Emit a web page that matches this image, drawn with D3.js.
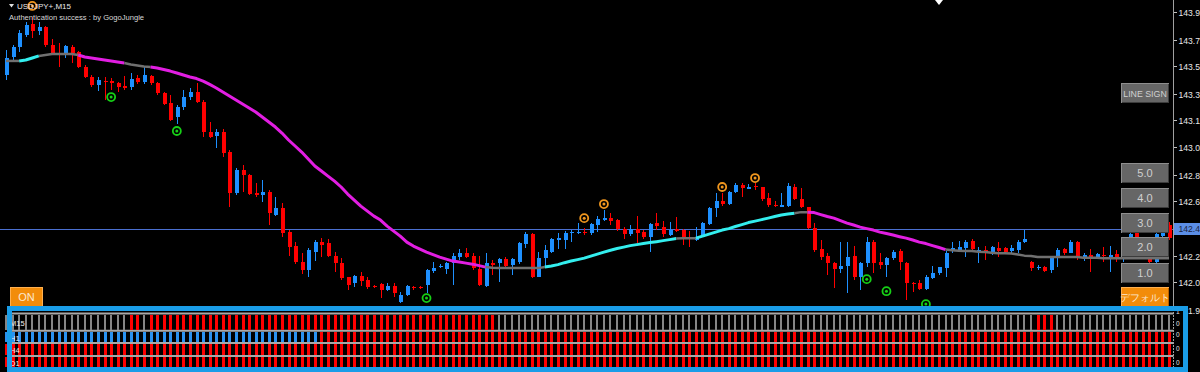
<!DOCTYPE html>
<html>
<head>
<meta charset="utf-8">
<script src="https://cdn.jsdelivr.net/npm/d3@7"></script>
<style>
  body { margin: 0; background: #000; overflow: hidden; }
  svg { display: block; }
</style>
</head>
<body>
<svg id="chart"></svg>
<script>
// USDJPY+ M15 candles
const opens = [
  143.499,143.622,143.690,143.772,143.847,143.799,143.826,143.704,143.649,143.649,
  143.690,143.656,143.554,143.486,143.431,143.458,143.458,143.445,143.424,143.418,
  143.479,143.452,143.492,143.445,143.377,143.309,143.213,143.281,143.349,143.383,
  143.315,143.111,143.084,143.111,142.975,142.696,142.852,142.818,142.696,142.682,
  142.702,142.546,142.594,142.430,142.335,142.226,142.171,142.294,142.362,142.355,
  142.267,142.219,142.124,142.083,142.130,142.103,142.062,142.076,142.035,142.062,
  141.953,142.001,142.056,142.056,142.069,142.164,142.192,142.178,142.219,142.260,
  142.287,142.267,142.178,142.062,142.219,142.219,142.246,142.205,142.226,142.348,
  142.416,142.124,142.253,142.294,142.376,142.376,142.423,142.423,142.430,142.423,
  142.478,142.512,142.525,142.512,142.451,142.416,142.451,142.430,142.396,142.491,
  142.464,142.410,142.451,142.444,142.396,142.376,142.396,142.485,142.594,142.641,
  142.621,142.702,142.750,142.723,142.743,142.737,142.662,142.614,142.600,142.607,
  142.737,142.655,142.600,142.457,142.314,142.267,142.219,142.178,142.199,142.267,
  142.124,142.219,142.362,142.226,142.205,142.253,142.301,142.219,142.083,142.083,
  142.042,142.117,142.151,142.185,142.301,142.307,142.321,142.369,142.294,142.307,
  142.280,142.321,142.321,142.301,142.307,142.362,142.226,142.185,142.192,142.171,
  142.253,142.314,142.287,142.362,142.260,142.273,142.260,142.273,142.260,142.280,
  142.246,142.273,142.430,142.376,142.307,142.226,142.403,142.478
];
const highs = [
  143.669,143.704,143.806,143.860,143.894,143.860,143.833,143.744,143.717,143.704,
  143.704,143.663,143.567,143.499,143.486,143.486,143.479,143.452,143.492,143.513,
  143.499,143.554,143.499,143.452,143.383,143.363,143.295,143.397,143.411,143.445,
  143.329,143.179,143.132,143.132,142.988,142.866,142.886,142.825,142.764,142.784,
  142.716,142.668,142.628,142.444,142.362,142.287,142.321,142.376,142.389,142.382,
  142.294,142.253,142.124,142.137,142.158,142.124,142.069,142.083,142.083,142.083,
  142.021,142.069,142.062,142.062,142.178,142.226,142.212,142.226,142.287,142.314,
  142.321,142.287,142.267,142.287,142.239,142.253,142.260,142.253,142.362,142.430,
  142.423,142.294,142.342,142.389,142.423,142.437,142.444,142.491,142.457,142.491,
  142.539,142.580,142.559,142.519,142.464,142.478,142.539,142.444,142.491,142.559,
  142.505,142.498,142.532,142.451,142.437,142.464,142.498,142.600,142.696,142.696,
  142.709,142.764,142.764,142.757,142.764,142.737,142.696,142.641,142.696,142.764,
  142.757,142.730,142.600,142.491,142.376,142.287,142.226,142.362,142.362,142.335,
  142.226,142.396,142.376,142.287,142.260,142.307,142.314,142.226,142.090,142.103,
  142.137,142.199,142.192,142.301,142.362,142.369,142.376,142.382,142.328,142.335,
  142.335,142.362,142.328,142.342,142.376,142.444,142.233,142.205,142.199,142.260,
  142.321,142.321,142.376,142.369,142.287,142.314,142.287,142.328,142.335,142.307,
  142.294,142.430,142.457,142.389,142.342,142.430,142.471,142.498
];
const lows = [
  143.465,143.601,143.656,143.758,143.751,143.772,143.690,143.635,143.554,143.615,
  143.581,143.547,143.479,143.418,143.390,143.329,143.397,143.383,143.397,143.397,
  143.438,143.438,143.431,143.363,143.295,143.186,143.166,143.261,143.329,143.309,
  143.077,143.070,143.002,142.941,142.600,142.682,142.702,142.682,142.668,142.634,
  142.478,142.539,142.396,142.267,142.212,142.144,142.124,142.233,142.260,142.260,
  142.158,142.103,142.035,142.056,142.062,142.042,142.049,141.981,142.028,141.987,
  141.947,141.994,142.035,142.042,142.015,142.151,142.185,142.144,142.069,142.239,
  142.253,142.171,142.062,142.056,142.137,142.090,142.192,142.137,142.212,142.321,
  142.117,142.124,142.192,142.287,142.314,142.314,142.362,142.416,142.410,142.410,
  142.430,142.505,142.478,142.437,142.382,142.403,142.355,142.382,142.294,142.444,
  142.396,142.403,142.430,142.342,142.328,142.369,142.396,142.478,142.532,142.607,
  142.614,142.696,142.668,142.723,142.716,142.641,142.600,142.600,142.600,142.600,
  142.648,142.594,142.451,142.294,142.239,142.137,142.049,142.151,142.015,142.103,
  142.035,142.192,142.151,142.178,142.124,142.239,142.171,141.967,142.021,142.035,
  142.035,142.110,142.137,142.124,142.287,142.294,142.260,142.301,142.219,142.239,
  142.273,142.260,142.280,142.287,142.287,142.355,142.164,142.171,142.158,142.151,
  142.192,142.273,142.287,142.239,142.233,142.158,142.253,142.226,142.158,142.226,
  142.226,142.267,142.348,142.273,142.212,142.219,142.376,142.376
];
const closes = [
  143.615,143.690,143.785,143.840,143.799,143.826,143.704,143.649,143.642,143.697,
  143.649,143.554,143.486,143.431,143.465,143.452,143.445,143.418,143.411,143.472,
  143.452,143.499,143.445,143.377,143.302,143.193,143.281,143.349,143.383,143.315,
  143.111,143.077,143.111,142.968,142.696,142.852,142.818,142.689,142.682,142.702,
  142.559,142.594,142.423,142.328,142.226,142.171,142.307,142.362,142.342,142.267,
  142.219,142.117,142.069,142.130,142.096,142.056,142.056,142.035,142.062,142.015,
  142.001,142.062,142.049,142.049,142.171,142.185,142.199,142.219,142.267,142.287,
  142.260,142.185,142.069,142.219,142.205,142.246,142.199,142.246,142.355,142.416,
  142.124,142.253,142.307,142.382,142.389,142.423,142.430,142.430,142.423,142.485,
  142.519,142.525,142.505,142.451,142.416,142.451,142.423,142.396,142.485,142.471,
  142.416,142.444,142.437,142.396,142.382,142.396,142.491,142.594,142.641,142.621,
  142.702,142.750,142.730,142.737,142.737,142.655,142.614,142.607,142.614,142.743,
  142.655,142.600,142.457,142.307,142.260,142.219,142.178,142.199,142.260,142.124,
  142.219,142.362,142.219,142.205,142.253,142.294,142.226,142.083,142.076,142.042,
  142.124,142.151,142.192,142.287,142.321,142.328,142.362,142.314,142.307,142.294,
  142.328,142.301,142.294,142.321,142.362,142.382,142.185,142.192,142.164,142.253,
  142.307,142.287,142.362,142.260,142.273,142.260,142.280,142.267,142.273,142.260,
  142.273,142.416,142.376,142.294,142.226,142.416,142.444,142.389
];

// moving average line and its trend colouring (u = up, d = down, f = flat)
const maValues = [
  143.595,143.595,143.595,143.601,143.615,143.629,143.635,143.642,143.642,143.642,
  143.642,143.635,143.622,143.615,143.608,143.601,143.595,143.588,143.581,143.571,
  143.564,143.557,143.554,143.547,143.537,143.526,143.513,143.499,143.486,143.475,
  143.458,143.435,143.411,143.383,143.356,143.329,143.302,143.275,143.247,143.213,
  143.179,143.145,143.104,143.057,143.016,142.975,142.927,142.880,142.846,142.811,
  142.777,142.737,142.689,142.648,142.607,142.573,142.539,142.512,142.471,142.437,
  142.403,142.362,142.335,142.314,142.294,142.277,142.260,142.246,142.233,142.226,
  142.219,142.212,142.202,142.192,142.188,142.185,142.185,142.185,142.185,142.185,
  142.185,142.185,142.192,142.199,142.209,142.222,142.233,142.243,142.253,142.267,
  142.280,142.294,142.307,142.318,142.328,142.338,142.345,142.352,142.359,142.365,
  142.372,142.379,142.386,142.389,142.389,142.389,142.403,142.416,142.430,142.444,
  142.454,142.468,142.481,142.495,142.505,142.515,142.525,142.536,142.546,142.553,
  142.559,142.566,142.566,142.563,142.549,142.536,142.525,142.508,142.491,142.478,
  142.464,142.454,142.444,142.430,142.420,142.410,142.399,142.389,142.376,142.362,
  142.352,142.338,142.325,142.311,142.307,142.304,142.301,142.301,142.297,142.294,
  142.290,142.287,142.287,142.284,142.277,142.270,142.267,142.260,142.260,142.260,
  142.260,142.260,142.260,142.260,142.256,142.256,142.256,142.253,142.253,142.253,
  142.253,142.253,142.253,142.253,142.253,142.253,142.253,142.253
];
const maTrendRuns = [["f",3],["u",3],["f",6],["d",7],["f",4],["d",51],["f",9],["u",20],["f",3],["u",15],["f",2],["d",21],["f",34]];

// arrow signals (candle index + price where the ring sits)
const sellIdx = [4, 88, 91, 109, 114];
const sellPrice = [143.969, 142.525, 142.621, 142.737, 142.798];
const buyIdx = [16, 26, 64, 131, 134, 140];
const buyPrice = [143.349, 143.118, 141.981, 142.110, 142.028, 141.940];

// price axis
const priceTicks = [143.93, 143.74, 143.56, 143.37, 143.19, 143.01, 142.82, 142.64, 142.45, 142.27, 142.09, 141.90];
const bidPrice = 142.45;

// multi-timeframe strip (g = neutral, r = sell, b = buy)
const tfNames = ["M15", "H1", "H4", "D1"];
const m15Runs = [["g",19],["r",2],["g",1],["r",53],["g",82],["r",3],["g",18]];
const h1Runs = [["b",48],["r",130]];
const h4Runs = [["r",178]];
const d1Runs = [["r",178]];
const tfValues = ["1", "0", "0", "0", "0"];

const buttonLabels = ["LINE SIGN", "5.0", "4.0", "3.0", "2.0", "1.0", "デフォルト"];

// ---------------------------------------------------------------
const W = 1200, H = 372;
const N = opens.length;
const axisX = 1173.5;

const expand = runs => runs.flatMap(([s, n]) => Array(n).fill(s));

const svg = d3.select("#chart").attr("width", W).attr("height", H)
  .style("font-family", "'Liberation Sans', Arial, sans-serif");
svg.append("rect").attr("width", W).attr("height", H).attr("fill", "#000");

svg.append("defs").append("clipPath").attr("id", "plot")
  .append("rect").attr("x", 0).attr("y", 0).attr("width", axisX).attr("height", 306);

const x = d3.scaleLinear().domain([0, N - 1]).range([6, 1169]);
const y = d3.scaleLinear().domain([141.90, 143.93]).range([310, 11.7]);

const plot = svg.append("g").attr("clip-path", "url(#plot)");

// bid line
plot.append("line")
  .attr("x1", 0).attr("x2", axisX)
  .attr("y1", Math.round(y(bidPrice)) + 0.5).attr("y2", Math.round(y(bidPrice)) + 0.5)
  .attr("stroke", "#4a6fd0").attr("stroke-width", 1);

// candles
const candles = d3.range(N).map(i => ({i, o: opens[i], h: highs[i], l: lows[i], c: closes[i]}));
const candleColor = d => d.c >= d.o ? "#1e90ff" : "#ff0000";
const cg = plot.append("g").attr("shape-rendering", "crispEdges");
cg.selectAll(".wick").data(candles).enter().append("line")
  .attr("x1", d => Math.round(x(d.i)) + 0.5).attr("x2", d => Math.round(x(d.i)) + 0.5)
  .attr("y1", d => y(d.h)).attr("y2", d => y(d.l))
  .attr("stroke", candleColor);
cg.selectAll(".body").data(candles).enter().append("rect")
  .attr("x", d => Math.round(x(d.i)) - 1.5)
  .attr("width", 4)
  .attr("y", d => y(Math.max(d.o, d.c)))
  .attr("height", d => Math.max(1, Math.abs(y(d.o) - y(d.c))))
  .attr("fill", candleColor);

// moving average, split into coloured runs
const trend = expand(maTrendRuns);
const maColor = {u: "#33eeee", d: "#e21ee2", f: "#707070"};
const maLine = d3.line().x(i => x(i)).y(i => y(maValues[i]));
let start = 0;
for (let i = 1; i <= N; i++) {
  if (i === N || trend[i] !== trend[start]) {
    const pts = d3.range(Math.max(0, start - 1), i);
    plot.append("path").attr("d", maLine(pts)).attr("fill", "none")
      .attr("stroke", maColor[trend[start]])
      .attr("stroke-width", trend[start] === "f" ? 2.5 : 3)
      .attr("stroke-linejoin", "round");
    start = i;
  }
}

// signal rings
function ring(cx, cy, col) {
  plot.append("circle").attr("cx", cx).attr("cy", cy).attr("r", 4)
    .attr("fill", "none").attr("stroke", col).attr("stroke-width", 1.8);
  plot.append("circle").attr("cx", cx).attr("cy", cy).attr("r", 1.5).attr("fill", col);
}
sellIdx.forEach((idx, k) => ring(x(idx), y(sellPrice[k]), "#f0961e"));
buyIdx.forEach((idx, k) => ring(x(idx), y(buyPrice[k]), "#16d016"));

// price axis
svg.append("line").attr("x1", axisX).attr("x2", axisX).attr("y1", 0).attr("y2", H)
  .attr("stroke", "#a0a0a0").attr("shape-rendering", "crispEdges");
const ax = svg.append("g");
priceTicks.forEach(p => {
  const yy = Math.round(y(p)) + 0.5;
  ax.append("line").attr("x1", axisX).attr("x2", axisX + 3).attr("y1", yy).attr("y2", yy)
    .attr("stroke", "#c0c0c0").attr("shape-rendering", "crispEdges");
  ax.append("text").attr("x", 1178.5).attr("y", yy).attr("dy", "0.35em")
    .attr("fill", "#e8e8e8").attr("font-size", 8.6).text(p.toFixed(2));
});
// current price label
const bidY = Math.round(y(bidPrice));
svg.append("rect").attr("x", 1174).attr("y", bidY - 6).attr("width", 30).attr("height", 12)
  .attr("fill", "#5b8ee6");
svg.append("text").attr("x", 1178.5).attr("y", bidY).attr("dy", "0.35em")
  .attr("fill", "#1c2440").attr("font-size", 8.6).text(bidPrice.toFixed(2));

// title
svg.append("path").attr("d", "M9,4 L14,4 L11.5,7.5 Z").attr("fill", "#e0e0e0");
svg.append("text").attr("x", 17).attr("y", 9).attr("fill", "#e8e8e8").attr("font-size", 8)
  .text("USDJPY+,M15");
svg.append("text").attr("x", 9).attr("y", 19.5).attr("fill", "#d8d8d8").attr("font-size", 7.6)
  .text("Authentication success : by GogoJungle");
// shift marker
svg.append("path").attr("d", "M935,0 L943,0 L939,5 Z").attr("fill", "#ffffff");

// buttons
const btnTops = [83, 163, 188, 213, 237, 263, 287];
buttonLabels.forEach((lab, k) => {
  const orange = k === buttonLabels.length - 1;
  const g = svg.append("g").attr("transform", `translate(1121,${btnTops[k]})`);
  g.append("rect").attr("x", 0.5).attr("y", 0.5).attr("width", 47).attr("height", 19)
    .attr("fill", orange ? "#f28c0a" : "#666666")
    .attr("stroke", orange ? "#ffb050" : "#8e8e8e").attr("shape-rendering", "crispEdges");
  g.append("path").attr("d", "M1,19.5 H47.5 V1").attr("fill", "none")
    .attr("stroke", orange ? "#b86000" : "#3c3c3c").attr("shape-rendering", "crispEdges");
  g.append("text").attr("x", 24).attr("y", 10.5).attr("dy", "0.35em").attr("text-anchor", "middle")
    .attr("fill", orange ? "#fbe8d0" : "#d0d0d0")
    .attr("font-size", k === 0 ? 8.8 : (orange ? 9.5 : 11))
    .text(lab);
});
// ON button
const onG = svg.append("g").attr("transform", "translate(10,287)");
onG.append("rect").attr("x", 0.5).attr("y", 0.5).attr("width", 32).attr("height", 19)
  .attr("fill", "#f28c0a").attr("stroke", "#ffb050").attr("shape-rendering", "crispEdges");
onG.append("text").attr("x", 16.5).attr("y", 10.5).attr("dy", "0.35em").attr("text-anchor", "middle")
  .attr("fill", "#fbe8d0").attr("font-size", 11).text("ON");

// multi-timeframe strip panel (its frame hides the start of the lowest axis label)
const panel = svg.append("g");
panel.append("rect").attr("x", 7).attr("y", 306).attr("width", 1181).attr("height", 66).attr("fill", "#000");
const rowsY = [[314.5, 329.5], [332, 342], [344, 355], [357, 367]];
const rowStates = [expand(m15Runs), expand(h1Runs), expand(h4Runs), expand(d1Runs)];
const stripeColor = {g: "#858585", r: "#ff0000", b: "#2a92f0"};
const sepY = [313.5, 330.75, 343, 356];
sepY.forEach(sy => panel.append("rect").attr("x", 10).attr("y", sy - 1).attr("width", axisX - 10)
  .attr("height", 2).attr("fill", "#a8a8a8"));
rowsY.forEach(([y0, y1], r) => {
  panel.append("g").attr("shape-rendering", "crispEdges")
    .selectAll("rect").data(rowStates[r].map((s, i) => ({s, i}))).enter().append("rect")
    .attr("x", d => Math.round(x(d.i)) - 1)
    .attr("width", d => d.s === "g" ? 2 : 3)
    .attr("y", y0).attr("height", y1 - y0)
    .attr("fill", d => stripeColor[d.s]);
  panel.append("text").attr("x", 10).attr("y", (y0 + y1) / 2 + 1).attr("dy", "0.35em")
    .attr("fill", "#f0f0f0").attr("font-size", 7.5).text(tfNames[r]);
});
panel.append("line").attr("x1", axisX).attr("x2", axisX).attr("y1", 306).attr("y2", H)
  .attr("stroke", "#a0a0a0").attr("stroke-dasharray", "2,1");
[312, 324, 335, 349, 363].forEach((ty, k) => panel.append("text").attr("x", 1176).attr("y", ty)
  .attr("dy", "0.35em").attr("fill", "#e0e0e0").attr("font-size", 6.5).text(tfValues[k]));
panel.append("rect").attr("x", 9.5).attr("y", 308.5).attr("width", 1176).attr("height", 61)
  .attr("fill", "none").attr("stroke", "#1a9de8").attr("stroke-width", 5);
</script>
</body>
</html>
